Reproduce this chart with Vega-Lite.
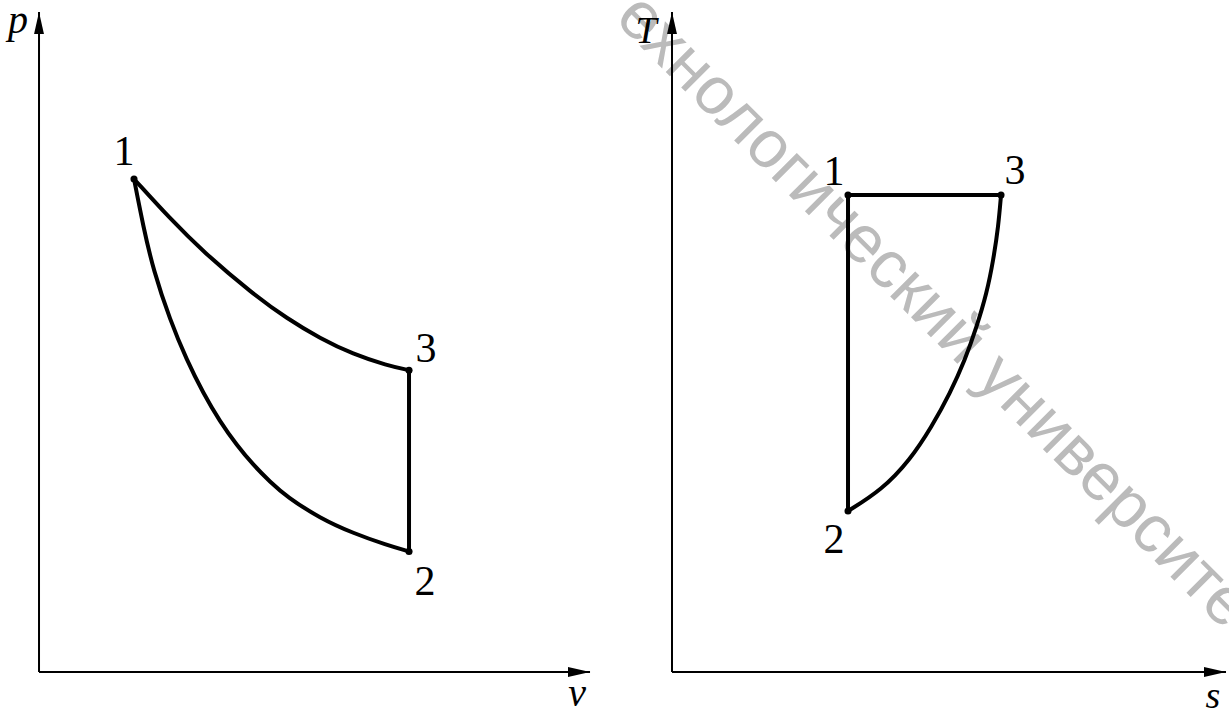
{
  "$schema": "https://vega.github.io/schema/vega-lite/v6.json",
  "padding": 0,
  "spacing": 0,
  "background": "white",
  "config": {"view": {"stroke": null}},
  "datasets": {
    "axesL": [
      {"axis": "y", "i": 0, "v": 0, "p": 0},
      {"axis": "y", "i": 1, "v": 0, "p": 10},
      {"axis": "x", "i": 0, "v": 0, "p": 0},
      {"axis": "x", "i": 1, "v": 10, "p": 0}
    ],
    "arrowsL": [
      {"dir": "up", "v": 0, "p": 10},
      {"dir": "right", "v": 10, "p": 0}
    ],
    "cycleL": [
      {"seg": "1-3", "i": 0, "v": 1.724, "p": 7.47},
      {"seg": "1-3", "i": 1, "v": 2.377, "p": 6.87},
      {"seg": "1-3", "i": 2, "v": 2.976, "p": 6.37},
      {"seg": "1-3", "i": 3, "v": 3.884, "p": 5.726},
      {"seg": "1-3", "i": 4, "v": 4.501, "p": 5.355},
      {"seg": "1-3", "i": 5, "v": 5.1, "p": 5.055},
      {"seg": "1-3", "i": 6, "v": 5.699, "p": 4.815},
      {"seg": "1-3", "i": 7, "v": 6.316, "p": 4.645},
      {"seg": "1-3", "i": 8, "v": 6.715, "p": 4.573},
      {"seg": "3-2", "i": 0, "v": 6.715, "p": 4.573},
      {"seg": "3-2", "i": 1, "v": 6.715, "p": 1.826},
      {"seg": "1-2", "i": 0, "v": 1.724, "p": 7.47},
      {"seg": "1-2", "i": 1, "v": 1.893, "p": 6.747},
      {"seg": "1-2", "i": 2, "v": 2.074, "p": 6.091},
      {"seg": "1-2", "i": 3, "v": 2.378, "p": 5.333},
      {"seg": "1-2", "i": 4, "v": 2.68, "p": 4.727},
      {"seg": "1-2", "i": 5, "v": 2.982, "p": 4.223},
      {"seg": "1-2", "i": 6, "v": 3.285, "p": 3.792},
      {"seg": "1-2", "i": 7, "v": 3.588, "p": 3.439},
      {"seg": "1-2", "i": 8, "v": 3.889, "p": 3.136},
      {"seg": "1-2", "i": 9, "v": 4.192, "p": 2.883},
      {"seg": "1-2", "i": 10, "v": 4.495, "p": 2.656},
      {"seg": "1-2", "i": 11, "v": 5.1, "p": 2.329},
      {"seg": "1-2", "i": 12, "v": 5.704, "p": 2.101},
      {"seg": "1-2", "i": 13, "v": 6.31, "p": 1.924},
      {"seg": "1-2", "i": 14, "v": 6.715, "p": 1.826}
    ],
    "pointsL": [
      {"pt": "1", "v": 1.724, "p": 7.47},
      {"pt": "3", "v": 6.715, "p": 4.573},
      {"pt": "2", "v": 6.715, "p": 1.826}
    ],
    "numLabelsL": [
      {"text": "1", "v": 1.543, "p": 7.682},
      {"text": "3", "v": 7.024, "p": 4.697},
      {"text": "2", "v": 7.005, "p": 1.167}
    ],
    "axisLabelsL": [
      {"text": "p", "v": -0.381, "p": 9.682},
      {"text": "v", "v": 9.764, "p": -0.515}
    ],
    "axesR": [
      {"axis": "y", "i": 0, "s": 0, "T": 0},
      {"axis": "y", "i": 1, "s": 0, "T": 10},
      {"axis": "x", "i": 0, "s": 0, "T": 0},
      {"axis": "x", "i": 1, "s": 10, "T": 0}
    ],
    "arrowsR": [
      {"dir": "up", "s": 0, "T": 10},
      {"dir": "right", "s": 10, "T": 0}
    ],
    "cycleR": [
      {"seg": "1-3", "i": 0, "s": 3.177, "T": 7.227},
      {"seg": "1-3", "i": 1, "s": 5.939, "T": 7.227},
      {"seg": "1-2", "i": 0, "s": 3.177, "T": 7.227},
      {"seg": "1-2", "i": 1, "s": 3.177, "T": 2.439},
      {"seg": "2-3", "i": 0, "s": 3.177, "T": 2.439},
      {"seg": "2-3", "i": 1, "s": 3.785, "T": 2.758},
      {"seg": "2-3", "i": 2, "s": 4.296, "T": 3.212},
      {"seg": "2-3", "i": 3, "s": 4.688, "T": 3.717},
      {"seg": "2-3", "i": 4, "s": 5.018, "T": 4.223},
      {"seg": "2-3", "i": 5, "s": 5.289, "T": 4.727},
      {"seg": "2-3", "i": 6, "s": 5.5, "T": 5.232},
      {"seg": "2-3", "i": 7, "s": 5.681, "T": 5.738},
      {"seg": "2-3", "i": 8, "s": 5.8, "T": 6.242},
      {"seg": "2-3", "i": 9, "s": 5.89, "T": 6.747},
      {"seg": "2-3", "i": 10, "s": 5.939, "T": 7.227}
    ],
    "pointsR": [
      {"pt": "1", "s": 3.177, "T": 7.227},
      {"pt": "3", "s": 5.939, "T": 7.227},
      {"pt": "2", "s": 3.177, "T": 2.439}
    ],
    "numLabelsR": [
      {"text": "1", "s": 2.924, "T": 7.379},
      {"text": "3", "s": 6.191, "T": 7.394},
      {"text": "2", "s": 2.924, "T": 1.803}
    ],
    "axisLabelsR": [
      {"text": "T", "s": -0.469, "T": 9.53},
      {"text": "s", "s": 9.765, "T": -0.545}
    ],
    "watermark": [
      {"text": "технологический университет", "s": 4.711, "T": 5.47}
    ]
  },
  "hconcat": [
    {
      "width": 620,
      "height": 710,
      "encoding": {
        "x": {"field": "v", "type": "quantitative", "scale": {"domain": [-0.708, 10.544], "nice": false, "zero": false}, "axis": null},
        "y": {"field": "p", "type": "quantitative", "scale": {"domain": [-0.576, 10.182], "nice": false, "zero": false}, "axis": null}
      },
      "layer": [
        {
          "data": {"name": "axesL"},
          "mark": {"type": "line", "color": "black", "strokeWidth": 2},
          "encoding": {"detail": {"field": "axis"}, "order": {"field": "i", "type": "quantitative"}}
        },
        {
          "data": {"name": "arrowsL"},
          "mark": {"type": "point", "filled": true, "color": "black", "size": 484, "opacity": 1, "strokeWidth": 0},
          "encoding": {
            "shape": {"field": "dir", "type": "nominal", "scale": {"domain": ["up", "right"], "range": ["M0,0L0.45,2L-0.45,2Z", "M0,0L-2,-0.45L-2,0.45Z"]}, "legend": null}
          }
        },
        {
          "data": {"name": "cycleL"},
          "mark": {"type": "line", "color": "black", "strokeWidth": 4, "interpolate": "basis", "strokeCap": "round", "strokeJoin": "round"},
          "encoding": {"detail": {"field": "seg"}, "order": {"field": "i", "type": "quantitative"}}
        },
        {
          "data": {"name": "pointsL"},
          "mark": {"type": "circle", "color": "black", "size": 50, "opacity": 1}
        },
        {
          "data": {"name": "numLabelsL"},
          "mark": {"type": "text", "font": "Liberation Serif", "fontSize": 42, "color": "black", "align": "center", "baseline": "alphabetic"},
          "encoding": {"text": {"field": "text"}}
        },
        {
          "data": {"name": "axisLabelsL"},
          "mark": {"type": "text", "font": "Liberation Serif", "fontStyle": "italic", "fontSize": 40, "color": "black", "align": "center", "baseline": "alphabetic"},
          "encoding": {"text": {"field": "text"}}
        }
      ]
    },
    {
      "width": 609,
      "height": 710,
      "encoding": {
        "x": {"field": "s", "type": "quantitative", "scale": {"domain": [-0.9386, 10.054], "nice": false, "zero": false}, "axis": null},
        "y": {"field": "T", "type": "quantitative", "scale": {"domain": [-0.576, 10.182], "nice": false, "zero": false}, "axis": null}
      },
      "layer": [
        {
          "data": {"name": "watermark"},
          "mark": {"type": "text", "font": "Liberation Sans", "fontSize": 67, "color": "#bbbbbb", "align": "center", "baseline": "middle", "angle": 45, "clip": true},
          "encoding": {"text": {"field": "text"}}
        },
        {
          "data": {"name": "axesR"},
          "mark": {"type": "line", "color": "black", "strokeWidth": 2},
          "encoding": {"detail": {"field": "axis"}, "order": {"field": "i", "type": "quantitative"}}
        },
        {
          "data": {"name": "arrowsR"},
          "mark": {"type": "point", "filled": true, "color": "black", "size": 484, "opacity": 1, "strokeWidth": 0},
          "encoding": {
            "shape": {"field": "dir", "type": "nominal", "scale": {"domain": ["up", "right"], "range": ["M0,0L0.45,2L-0.45,2Z", "M0,0L-2,-0.45L-2,0.45Z"]}, "legend": null}
          }
        },
        {
          "data": {"name": "cycleR"},
          "mark": {"type": "line", "color": "black", "strokeWidth": 4, "interpolate": "basis", "strokeCap": "round", "strokeJoin": "round"},
          "encoding": {"detail": {"field": "seg"}, "order": {"field": "i", "type": "quantitative"}}
        },
        {
          "data": {"name": "pointsR"},
          "mark": {"type": "circle", "color": "black", "size": 50, "opacity": 1}
        },
        {
          "data": {"name": "numLabelsR"},
          "mark": {"type": "text", "font": "Liberation Serif", "fontSize": 42, "color": "black", "align": "center", "baseline": "alphabetic"},
          "encoding": {"text": {"field": "text"}}
        },
        {
          "data": {"name": "axisLabelsR"},
          "mark": {"type": "text", "font": "Liberation Serif", "fontStyle": "italic", "fontSize": 38, "color": "black", "align": "center", "baseline": "alphabetic"},
          "encoding": {"text": {"field": "text"}}
        }
      ]
    }
  ]
}
